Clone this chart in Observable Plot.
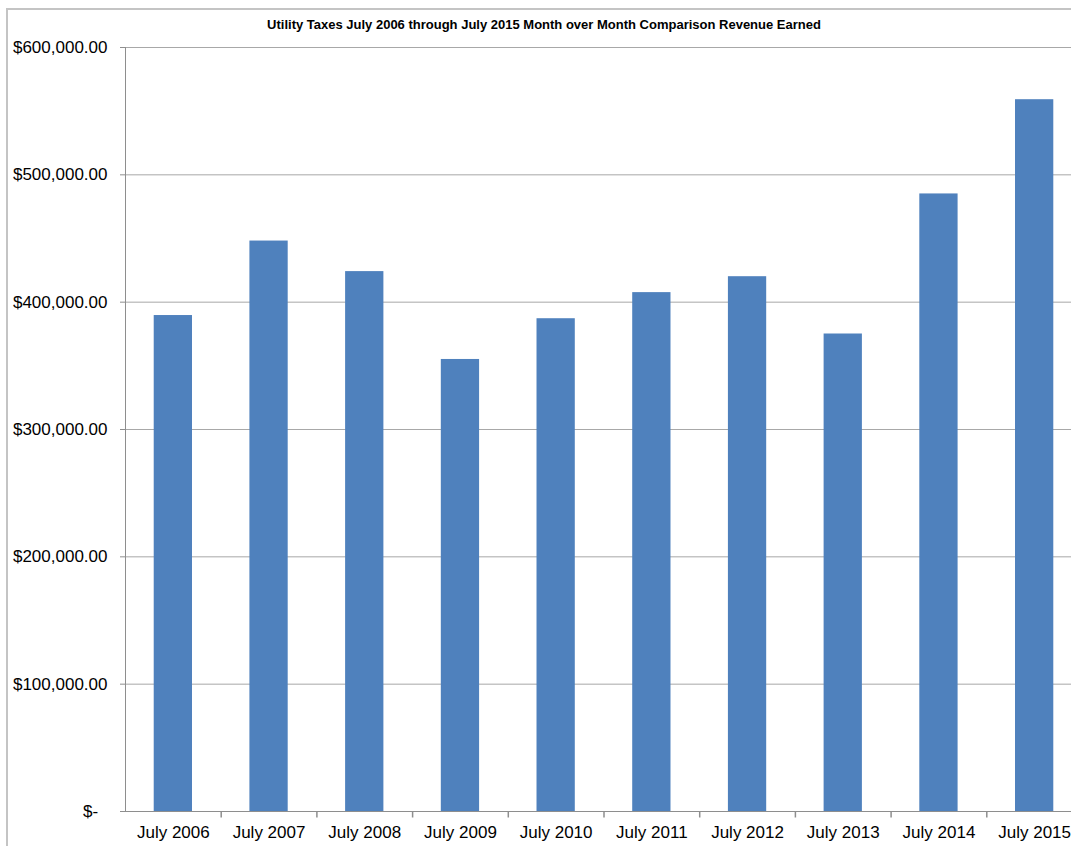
<!DOCTYPE html>
<html>
<head>
<meta charset="utf-8">
<script src="https://cdn.jsdelivr.net/npm/d3@7"></script>
<script src="https://cdn.jsdelivr.net/npm/@observablehq/plot@0.6"></script>
<style>
  html, body { margin: 0; padding: 0; background: #fff; overflow: hidden; }
  #wrap { position: relative; width: 1071px; height: 846px; overflow: hidden; }
  #frame {
    position: absolute; left: 6px; top: 8px; width: 1200px; height: 1000px;
    border-left: 2px solid #c4c4c4; border-top: 2px solid #c4c4c4;
    box-sizing: border-box;
  }
  #title {
    position: absolute; left: 0; top: 17px; width: 1088px; text-align: center;
    font: bold 13px "Liberation Sans", Arial, sans-serif; line-height: 15px; color: #000;
  }
  #chart { position: absolute; left: 0; top: 0; width: 1090px; }
  #chart svg { max-width: none; }
</style>
</head>
<body>
<div id="wrap">
  <div id="frame"></div>
  <div id="chart"></div>
  <div id="title">Utility Taxes July 2006 through July 2015 Month over Month Comparison Revenue Earned</div>
</div>
<script>
// July revenue from utility taxes, one bar per year
const categories = ["July 2006", "July 2007", "July 2008", "July 2009", "July 2010",
                    "July 2011", "July 2012", "July 2013", "July 2014", "July 2015"];
const revenue = [389500, 448000, 424000, 355000, 387000, 407500, 420000, 375000, 485000, 559000];
const yTicks = [0, 100000, 200000, 300000, 400000, 500000, 600000];

const data = categories.map((name, i) => ({name, i, value: revenue[i]}));

const gray = "#8e8e8e";
const money = d3.format("$,.2f");
const barWidth = 0.4; // share of each category slot taken by its bar

// a short downward stroke marking a category boundary under the baseline
const tickDown = {draw(ctx) { ctx.moveTo(0, 0); ctx.lineTo(0, 6); }};

const chart = Plot.plot({
  width: 1090,
  height: 846,
  marginLeft: 125,
  marginRight: 8,
  marginTop: 47,
  marginBottom: 35,
  style: {fontFamily: "'Liberation Sans', Arial, sans-serif", fontSize: "17px", color: "#000",
          background: "transparent", maxWidth: "none"},
  x: {domain: [0, categories.length], axis: null, label: null},
  y: {domain: [0, 600000], axis: null, label: null},
  marks: [
    Plot.gridY(yTicks, {stroke: "#a8a8a8", strokeOpacity: 1}),
    Plot.rectY(data, {
      x1: d => d.i + (1 - barWidth) / 2,
      x2: d => d.i + (1 + barWidth) / 2,
      y: "value",
      fill: "#4f81bd"
    }),
    Plot.ruleY([0], {stroke: gray}),
    Plot.ruleX([0], {stroke: gray}),
    Plot.dot(d3.range(1, categories.length + 1), {x: d => d, y: 0, symbol: tickDown, stroke: gray, r: 3}),
    Plot.axisY(yTicks, {
      anchor: "left",
      label: null,
      tickSize: 5,
      tickPadding: 13,
      stroke: gray,
      fontSize: 17,
      tickFormat: d => d === 0 ? "$-\u00a0\u00a0" : money(d)
    }),
    Plot.axisX(data.map(d => d.i + 0.5), {
      anchor: "bottom",
      label: null,
      tickSize: 0,
      tickPadding: 14,
      fontSize: 17,
      tickFormat: d => categories[Math.floor(d)]
    })
  ]
});

document.getElementById("chart").appendChild(chart);
</script>
</body>
</html>
